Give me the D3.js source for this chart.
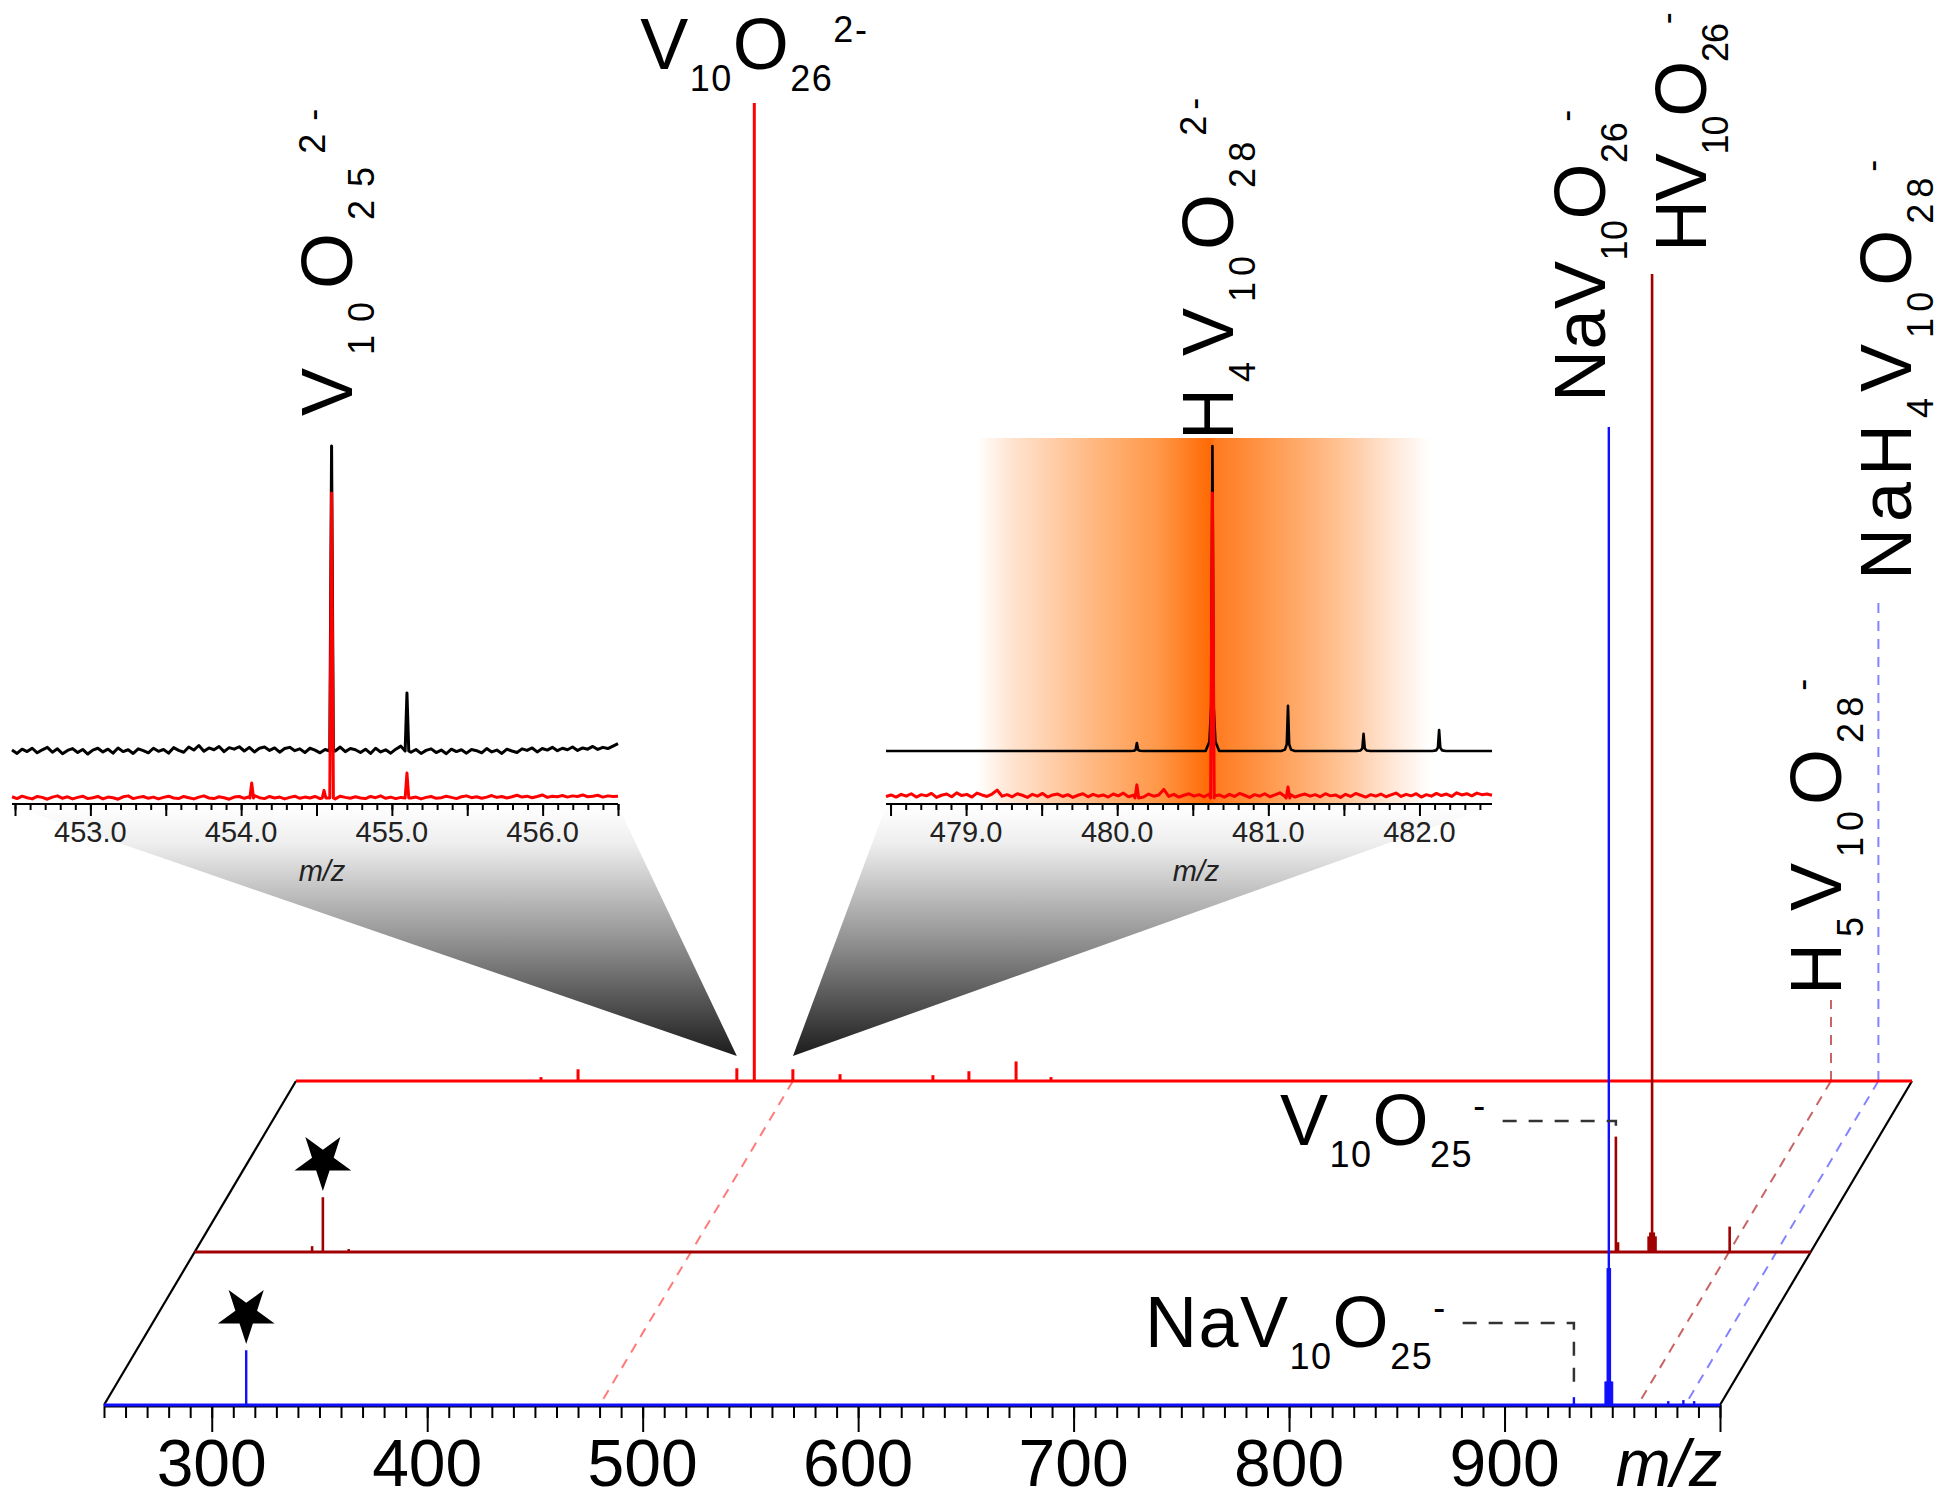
<!DOCTYPE html>
<html>
<head>
<meta charset="utf-8">
<script src="https://cdn.jsdelivr.net/npm/d3@7/dist/d3.min.js"></script>
<style>
  body { margin: 0; background: #fff; }
  svg { font-family: "Liberation Sans", Arial, Helvetica, sans-serif; }
</style>
</head>
<body>
<svg id="chart" width="1950" height="1501"></svg>
<script>
// ---------- data: [m/z, relative intensity %] ----------
const mzRange = [250, 1000];
const mzTicks = [300, 400, 500, 600, 700, 800, 900];

// front spectrum (blue), middle spectrum (dark red), back spectrum (red)
const bluePeaks = [[316, 5.6], [932.2, 0.8], [946.9, 2.4], [947.4, 2.4], [947.9, 14], [948.4, 100],
  [948.9, 14], [949.4, 2.4], [949.9, 2.4], [976, 0.4], [983, 0.5], [988, 0.4]];
const darkPeaks = [[304.5, 0.6], [309.5, 5.6], [321.5, 0.3], [909.6, 11.8], [910.6, 1.0],
  [924.8, 1.6], [925.6, 2.0], [926.4, 100], [927.2, 2.0], [928.0, 1.6], [962.4, 2.6]];
const redPeaks = [[363.7, 0.4], [380.9, 1.2], [454.6, 1.3], [462.7, 100], [480.6, 1.2], [502.5, 0.7],
  [545.6, 0.6], [562.3, 1.0], [584.2, 2.0], [600.4, 0.4]];

// ions annotated on the figure and their m/z
const ionLabels = ["V_{10}O_{26}^{2-}", "V_{10}O_{25}^{2-}", "H_{4}V_{10}O_{28}^{2-}", "NaV_{10}O_{26}^{-}",
  "HV_{10}O_{26}^{-}", "NaH_{4}V_{10}O_{28}^{-}", "H_{5}V_{10}O_{28}^{-}", "V_{10}O_{25}^{-}", "NaV_{10}O_{25}^{-}"];
const ionMz = [462.7, 454.6, 480.63, 948.4, 926.4, 984.4, 962.4, 909.6, 932.2];

// zoomed insets
const leftRange = [452.48, 456.5];
const leftTicks = [453.0, 454.0, 455.0, 456.0];
const leftSimPeaks = [[454.6, 100], [455.1, 19]];
const leftExpPeaks = [[454.07, 4.9], [454.55, 2.5], [454.6, 100], [455.1, 8.2]];
const leftSimNoise = [0.3,-0.8,0.6,-0.2,0.9,-0.6,0.4,1.2,-0.4,0.7,
  -0.9,0.2,0.8,-0.5,0.5,-1.0,0.3,0.9,-0.3,0.6,
  -0.7,1.0,-0.2,0.4,-0.8,0.7,0.1,-0.6,0.9,-0.1,
  0.5,-0.7,1.1,0.2,-0.4,1.3,0.3,1.8,-0.1,1.0,
  0.4,1.5,-0.2,1.1,0.6,1.4,0.0,1.2,-0.3,0.9,
  1.3,0.2,1.0,-0.4,0.8,1.2,0.1,0.7,-0.5,0.9,
  0.3,-0.6,0.5,1.1,0.0,1.3,-0.2,0.8,0.4,-0.5,
  0.6,-0.8,0.9,-0.3,0.4,-0.7,0.6,1.6,0.3,-0.4,
  0.5,-0.8,0.2,0.7,-0.5,0.3,-0.9,0.6,-0.2,0.4,
  -0.7,0.5,0.1,-0.6,0.8,-0.3,0.3,-0.8,0.6,0.0,
  -0.5,0.7,0.2,1.0,-0.3,0.8,0.3,1.2,0.1,0.9,
  0.4,1.3,0.2,1.0,0.6,1.5,0.5,1.2,0.8,1.6,2.4];
const leftExpNoise = [0.4,-0.2,0.6,0.1,-0.3,0.5,0.2,-0.4,0.3,0.7,
  -0.1,0.4,-0.3,0.2,0.6,-0.2,0.1,0.5,-0.3,0.3,
  0.1,-0.4,0.4,0.7,-0.2,0.2,0.5,-0.1,0.3,-0.3,
  0.2,0.6,0.0,-0.2,0.5,0.1,-0.3,0.3,0.7,0.0,
  -0.2,0.4,0.1,-0.4,0.3,0.5,-0.1,0.4,0.8,0.1,
  -0.2,0.5,0.0,0.3,-0.3,0.2,0.6,-0.1,0.3,0.0,
  0.5,-0.2,0.3,0.1,-0.3,0.6,0.2,-0.1,0.4,0.0,
  -0.2,0.5,0.1,0.7,-0.1,0.3,-0.2,0.2,0.6,0.0,
  0.3,-0.3,0.2,0.5,-0.1,0.1,0.6,0.2,-0.2,0.4,
  0.7,0.1,0.4,-0.1,0.3,0.8,0.2,0.5,0.0,0.4,
  0.9,0.3,0.6,0.1,0.5,1.0,0.2,0.6,0.4,0.8,
  0.3,0.7,0.5,1.0,0.4,0.6,0.9,0.3,0.7,0.5,0.6];

const rightRange = [478.47, 482.48];
const rightTicks = [479.0, 480.0, 481.0, 482.0];
const rightBand = [479.07, 482.07];
const rightSimPeaks = [[480.13, 2.6], [480.63, 100], [481.13, 14.8], [481.63, 5.6], [482.13, 6.9]];
const rightExpPeaks = [[480.13, 4.3], [480.63, 100], [481.13, 3.6]];
const rightExpNoise = [0.5,1.0,0.3,1.2,0.6,1.4,0.3,1.1,0.7,1.5,
  0.2,0.9,1.3,0.4,1.7,0.8,1.2,0.3,1.6,1.0,
  0.5,1.3,2.6,0.6,1.1,0.4,1.4,0.9,0.2,1.2,
  0.6,1.5,0.3,1.0,1.3,0.5,1.1,0.2,0.9,1.4,
  0.4,1.2,0.6,1.0,0.3,1.3,0.7,1.6,0.4,0.9,
  1.1,0.3,1.3,0.6,1.0,2.8,0.5,1.2,0.3,0.9,
  1.4,0.6,1.1,0.4,1.3,0.7,1.0,0.3,1.2,0.5,
  1.5,0.9,0.2,1.1,0.6,1.4,0.4,1.0,1.7,0.5,
  1.2,0.3,0.9,1.3,0.6,1.1,0.4,1.4,0.7,1.0,
  0.2,1.2,0.5,1.5,0.9,0.3,1.1,0.6,1.3,0.4,
  1.0,1.6,0.5,1.2,0.7,1.4,0.3,1.1,0.6,1.5,
  0.8,1.3,0.5,1.7,1.0,1.4,0.7,1.6,1.1,1.3,0.9];

// peak shapes: [m/z offset, fraction of height]
const expShape = [[-0.012, 0], [0, 1], [0.012, 0]];
const simShape = [[-0.045, 0], [-0.02, 0.03], [-0.008, 0.15], [0, 1], [0.008, 0.15], [0.02, 0.03], [0.045, 0]];

// ---------- layout ----------
const svg = d3.select("#chart");
const FONT_MAIN = 72, FONT_SUB = 36, SUB_DY = 22, SUP_DY = 27;

const x = d3.scaleLinear().domain(mzRange).range([104, 1720]);
const h = d3.scaleLinear().domain([0, 100]).range([0, 978]);
const planeY = {blue: 1405, dark: 1252, red: 1081};
const slant = 192 / 324;
const px = (m, k) => x(m) + (planeY.blue - planeY[k]) * slant;

const insetAxisY = 804, simBase = 751, expBase = 798;
const ih = d3.scaleLinear().domain([0, 100]).range([0, 305]);
const xl = d3.scaleLinear().domain(leftRange).range([12, 618]);
const xr = d3.scaleLinear().domain(rightRange).range([886, 1492]);

// gradients
const defs = svg.append("defs");
const grey = defs.append("linearGradient").attr("id", "grey")
  .attr("x1", 0).attr("y1", 0).attr("x2", 0).attr("y2", 1);
grey.selectAll("stop")
  .data([[0, "#ffffff"], [0.15, "#eeeeee"], [0.55, "#8f8f8f"], [1, "#1c1c1c"]])
  .join("stop").attr("offset", d => d[0]).attr("stop-color", d => d[1]);
const orange = defs.append("linearGradient").attr("id", "orange")
  .attr("x1", 0).attr("y1", 0).attr("x2", 1).attr("y2", 0);
orange.selectAll("stop")
  .data([[0, "#ffffff"], [0.08, "#ffe3cf"], [0.25, "#ffb984"], [0.4, "#ff9848"], [0.515, "#ff6a05"],
    [0.525, "#ff7a1f"], [0.65, "#ff9a50"], [0.8, "#ffc293"], [0.92, "#ffe8d8"], [1, "#ffffff"]])
  .join("stop").attr("offset", d => d[0]).attr("stop-color", d => d[1]);

// grey funnels from the insets down to the peaks
const tipY = planeY.red - 25;
[[xl, ionMz[1]], [xr, ionMz[2]]].forEach(([s, m]) => {
  const r = s.range();
  svg.append("polygon")
    .attr("points", [[r[0], insetAxisY + 2], [r[1], insetAxisY + 2], [px(m, "red"), tipY]].join(" "))
    .attr("fill", "url(#grey)");
});

// orange highlight band
svg.append("rect")
  .attr("x", xr(rightBand[0])).attr("width", xr(rightBand[1]) - xr(rightBand[0]))
  .attr("y", 438).attr("height", insetAxisY - 438)
  .attr("fill", "url(#orange)");

// inset traces
function trace(s, baseY, noise, peaks, shape, color, width) {
  const [m0, m1] = s.domain();
  const span = shape[shape.length - 1][0];
  let pts = noise.length
    ? noise.map((v, i) => [m0 + i * (m1 - m0) / (noise.length - 1), v])
        .filter(p => !peaks.some(([m]) => Math.abs(p[0] - m) < span))
    : [[m0, 0], [m1, 0]];
  peaks.forEach(([m, v]) => shape.forEach(([o, f]) => pts.push([m + o, v * f])));
  pts.sort((a, b) => a[0] - b[0]);
  svg.append("path")
    .attr("d", d3.line().x(d => s(d[0])).y(d => baseY - ih(d[1]))(pts))
    .attr("fill", "none").attr("stroke", color).attr("stroke-width", width)
    .attr("stroke-linejoin", "round");
}

function insetAxis(s, labels) {
  const [m0, m1] = s.domain();
  const minor = d3.range(Math.ceil(m0 * 10), m1 * 10 + 1e-6).map(d => d / 10);
  const major = d3.range(Math.ceil(m0 * 2), m1 * 2 + 1e-6).map(d => d / 2);
  [[minor, 6], [major, 12]].forEach(([vals, len]) => {
    const g = svg.append("g").attr("transform", `translate(0,${insetAxisY})`)
      .call(d3.axisBottom(s).tickValues(vals).tickSize(len).tickFormat(""));
    g.select(".domain").remove();
    g.selectAll(".tick line").attr("stroke", "#000").attr("stroke-width", 2);
  });
  svg.append("line").attr("x1", s.range()[0]).attr("x2", s.range()[1])
    .attr("y1", insetAxisY).attr("y2", insetAxisY).attr("stroke", "#000").attr("stroke-width", 2);
  svg.append("g").selectAll("text").data(labels).join("text")
    .attr("x", d => s(d)).attr("y", 842).attr("text-anchor", "middle")
    .attr("font-size", 29).attr("fill", "#222").text(d3.format(".1f"));
  svg.append("text").attr("x", (s.range()[0] + s.range()[1]) / 2 + 7).attr("y", 881)
    .attr("text-anchor", "middle").attr("font-size", 29).attr("font-style", "italic")
    .attr("fill", "#222").text("m/z");
}

insetAxis(xl, leftTicks);
insetAxis(xr, rightTicks);
trace(xl, simBase, leftSimNoise, leftSimPeaks, expShape, "#000", 3);
trace(xl, expBase, leftExpNoise, leftExpPeaks, expShape, "#ff0000", 3);
trace(xr, simBase, [], rightSimPeaks, simShape, "#000", 2.6);
trace(xr, expBase, rightExpNoise, rightExpPeaks, expShape, "#ff0000", 3);

// ---------- stacked planes ----------
const frame = svg.append("g").attr("stroke", "#000").attr("stroke-width", 2.2);
[mzRange[0], mzRange[1]].forEach(m => {
  frame.append("line").attr("x1", px(m, "blue")).attr("y1", planeY.blue)
    .attr("x2", px(m, "red")).attr("y2", planeY.red);
});

// dashed guides through the planes
function guide(m, color, topY) {
  const g = svg.append("g").attr("stroke", color).attr("stroke-width", 2)
    .attr("stroke-dasharray", "10,8").attr("fill", "none");
  g.append("line").attr("x1", px(m, "red")).attr("y1", planeY.red)
    .attr("x2", px(m, "blue")).attr("y2", planeY.blue - 2);
  if (topY != null) {
    g.append("line").attr("x1", px(m, "red")).attr("y1", planeY.red)
      .attr("x2", px(m, "red")).attr("y2", topY);
  }
}
guide(ionMz[2], "#ff7a7a", null);
guide(ionMz[6], "#c86464", 1000);
guide(ionMz[5], "#8484ff", 601);

// spectra
function spectrum(peaks, k, color, width) {
  const [m0, m1] = mzRange;
  svg.append("line").attr("x1", px(m0, k)).attr("x2", px(m1, k))
    .attr("y1", planeY[k]).attr("y2", planeY[k])
    .attr("stroke", color).attr("stroke-width", 3);
  svg.append("g").selectAll("line").data(peaks).join("line")
    .attr("x1", d => px(d[0], k)).attr("x2", d => px(d[0], k))
    .attr("y1", planeY[k]).attr("y2", d => planeY[k] - h(d[1]))
    .attr("stroke", color).attr("stroke-width", width);
}
spectrum(redPeaks, "red", "#ff0000", 3);
spectrum(darkPeaks, "dark", "#a00000", 2.6);

// main axis (under the blue trace)
const minorTicks = d3.range(mzRange[0], mzRange[1] + 1, 10);
const majorTicks = mzTicks.concat([mzRange[1]]);
[[minorTicks, 13], [majorTicks, 27]].forEach(([vals, len]) => {
  const g = svg.append("g").attr("transform", `translate(0,${planeY.blue})`)
    .call(d3.axisBottom(x).tickValues(vals).tickSize(len).tickFormat(""));
  g.select(".domain").remove();
  g.selectAll(".tick line").attr("stroke", "#000").attr("stroke-width", 2);
});
svg.append("line").attr("x1", x(mzRange[0])).attr("x2", x(mzRange[1]))
  .attr("y1", planeY.blue + 1).attr("y2", planeY.blue + 1).attr("stroke", "#000").attr("stroke-width", 3);
svg.append("g").selectAll("text").data(mzTicks).join("text")
  .attr("x", d => x(d)).attr("y", 1486).attr("text-anchor", "middle")
  .attr("font-size", 66).attr("fill", "#000").text(d => d);
svg.append("text").attr("x", x(mzRange[1]) + 2).attr("y", 1486).attr("text-anchor", "end")
  .attr("font-size", 66).attr("font-style", "italic").text("m/z");

spectrum(bluePeaks, "blue", "#1010ff", 2.4);

// ---------- labels ----------
function parseFormula(str) {
  const parts = [];
  const re = /_\{([^}]*)\}|\^\{([^}]*)\}|([^_^]+)/g;
  let m;
  while ((m = re.exec(str))) {
    if (m[1] != null) parts.push({t: m[1], k: "sub"});
    else if (m[2] != null) parts.push({t: m[2], k: "sup"});
    else parts.push({t: m[3], k: "n"});
  }
  return parts;
}

function formula(str, tx, ty, rot, anchor, spacing) {
  const t = svg.append("text")
    .attr("transform", `translate(${tx},${ty}) rotate(${rot})`)
    .attr("text-anchor", anchor || "start")
    .attr("letter-spacing", spacing || 0)
    .attr("font-size", FONT_MAIN).attr("fill", "#000");
  let cur = 0;
  parseFormula(str).forEach(p => {
    const off = p.k === "sub" ? SUB_DY : p.k === "sup" ? -SUP_DY : 0;
    t.append("tspan").attr("dy", off - cur)
      .attr("font-size", p.k === "n" ? FONT_MAIN : FONT_SUB).text(p.t);
    cur = off;
  });
  return t;
}

const topOf = (m, peaks, k) => planeY[k] - h(peaks.find(d => d[0] === m)[1]);

formula(ionLabels[0], px(ionMz[0], "red"), topOf(ionMz[0], redPeaks, "red") - 34, 0, "middle", 1.5);
formula(ionLabels[1], xl(ionMz[1]) + 20, simBase - ih(100) - 30, -90, "start", 13);
formula(ionLabels[2], xr(ionMz[2]) + 21, simBase - ih(100) - 6, -90, "start", 6);
formula(ionLabels[3], px(ionMz[3], "blue") - 4, topOf(ionMz[3], bluePeaks, "blue") - 25, -90, "start", 0.5);
formula(ionLabels[4], px(ionMz[4], "dark") + 54, topOf(ionMz[4], darkPeaks, "dark") - 22, -90, "start", -1.2);
formula(ionLabels[5], px(ionMz[5], "red") + 33, 580, -90, "start", 6);
formula(ionLabels[6], px(ionMz[6], "red") + 10, 995, -90, "start", 6);

// horizontal labels with dashed leaders
function leader(str, tx, ty, m, peaks, k) {
  const t = formula(str, tx, ty, 0, "start", 1.5);
  const bb = t.node().getBBox();
  const endX = tx + bb.x + bb.width + 16;
  const xp = px(m, k), yp = topOf(m, peaks, k);
  svg.append("path")
    .attr("d", `M${endX},${ty - 24}H${xp}V${yp - 6}`)
    .attr("fill", "none").attr("stroke", "#333").attr("stroke-width", 2.5)
    .attr("stroke-dasharray", "14,12");
}
leader(ionLabels[7], 1280, 1145, ionMz[7], darkPeaks, "dark");
leader(ionLabels[8], 1145, 1347, ionMz[8], bluePeaks, "blue");

// stars over the low-mass peaks
const starPeaks = [[309.5, "dark", darkPeaks], [316, "blue", bluePeaks]];
starPeaks.forEach(([m, k, peaks]) => {
  svg.append("path")
    .attr("d", d3.symbol(d3.symbolStar, 1000)())
    .attr("transform", `translate(${px(m, k)},${topOf(m, peaks, k) - 36}) rotate(180)`)
    .attr("fill", "#000");
});
</script>
</body>
</html>
